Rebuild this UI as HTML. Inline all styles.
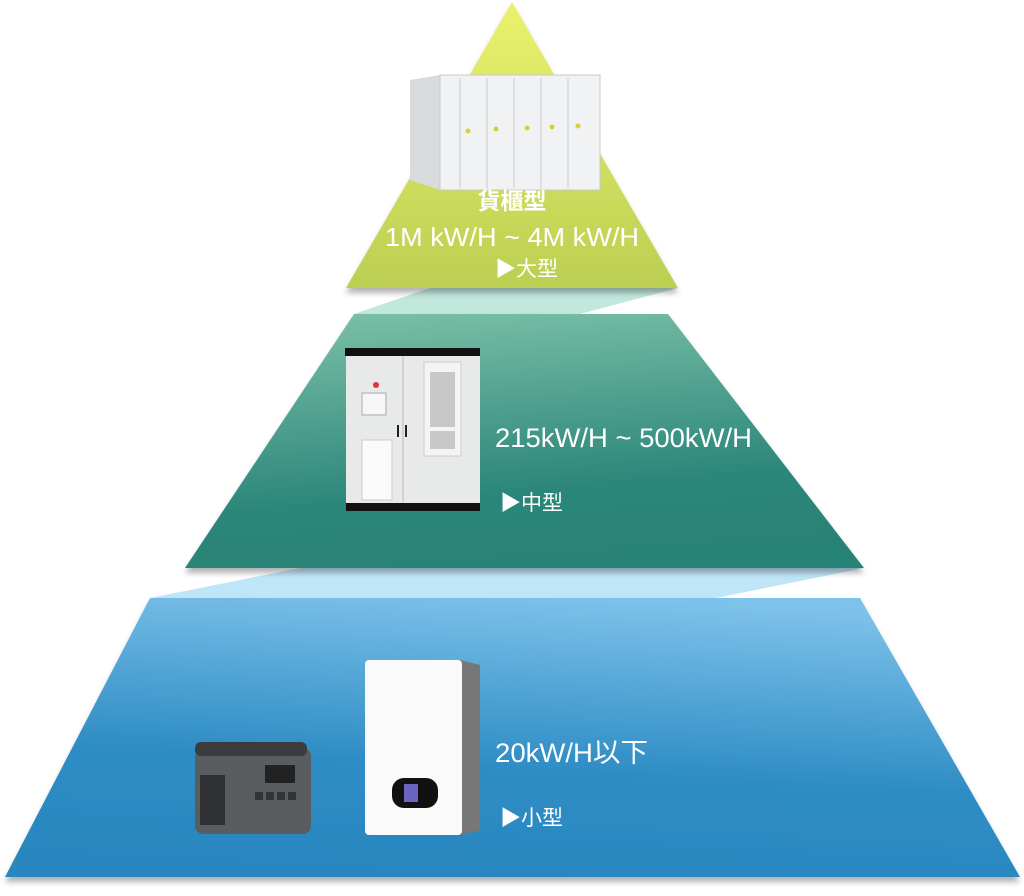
<!DOCTYPE html>
<html><head><meta charset="utf-8"><style>
body{margin:0;background:#fff;width:1024px;height:891px;overflow:hidden}
svg text{font-family:"Liberation Sans","Noto Sans CJK TC",sans-serif;fill:#fff}
</style></head><body>
<svg width="1024" height="891" viewBox="0 0 1024 891" xmlns="http://www.w3.org/2000/svg">
<defs>
<linearGradient id="gt" x1="0" y1="0" x2="0" y2="1"><stop offset="0" stop-color="#eaf26e"/><stop offset="1" stop-color="#bccf52"/></linearGradient>
<linearGradient id="gm" x1="0.3" y1="0" x2="0.5" y2="1"><stop offset="0" stop-color="#78bea6"/><stop offset="0.7" stop-color="#2c877a"/><stop offset="1" stop-color="#288275"/></linearGradient>
<linearGradient id="gb" x1="0.6" y1="0" x2="0.4" y2="1"><stop offset="0" stop-color="#7dc2ea"/><stop offset="0.6" stop-color="#2f8dc5"/><stop offset="1" stop-color="#2a86bf"/></linearGradient>
<filter id="sh" x="-10%" y="-10%" width="120%" height="130%"><feDropShadow dx="0" dy="5" stdDeviation="3" flood-color="#000" flood-opacity="0.3"/></filter>
</defs>
<polygon points="430,288 678,288 580,314 354,314" fill="#c2e7dd"/>
<polygon points="300,568 864,568 716,598 150,598" fill="#bfe5f8"/>
<polygon points="512,2 678,288 346,288" fill="url(#gt)" filter="url(#sh)"/>
<polygon points="354,314 668,314 864,568 185,568" fill="url(#gm)" filter="url(#sh)"/>
<polygon points="150,598 860,598 1020,877 5,877" fill="url(#gb)" filter="url(#sh)"/>
<g>
<polygon points="410,80 440,75 440,190 410,180" fill="#d8dadc"/>
<rect x="440" y="75" width="160" height="115" fill="#f1f2f3" stroke="#c8c8c8"/>
<g stroke="#c9cacc" stroke-width="1">
<line x1="460" y1="78" x2="460" y2="188"/><line x1="487" y1="78" x2="487" y2="188"/><line x1="514" y1="78" x2="514" y2="188"/><line x1="541" y1="78" x2="541" y2="188"/><line x1="568" y1="78" x2="568" y2="188"/></g>
<g fill="#d7d23a"><circle cx="468" cy="131" r="2.5"/><circle cx="496" cy="129" r="2.5"/><circle cx="527" cy="128" r="2.5"/><circle cx="552" cy="127" r="2.5"/><circle cx="578" cy="126" r="2.5"/></g>
</g>
<g>
<rect x="345" y="348" width="135" height="8" fill="#111"/>
<rect x="346" y="356" width="134" height="150" fill="#e8e9e9"/>
<rect x="346" y="503" width="134" height="8" fill="#111"/>
<line x1="403" y1="356" x2="403" y2="503" stroke="#bbb"/>
<rect x="424" y="362" width="37" height="94" fill="#f4f4f4" stroke="#ccc"/>
<rect x="430" y="372" width="25" height="55" fill="#c8c8c8"/>
<rect x="430" y="431" width="25" height="18" fill="#c8c8c8"/>
<rect x="362" y="393" width="24" height="22" fill="#f6f6f6" stroke="#aaa"/>
<circle cx="376" cy="385" r="3" fill="#d33"/>
<rect x="362" y="440" width="30" height="60" fill="#fafafa" stroke="#ccc"/>
<rect x="397" y="425" width="2" height="12" fill="#222"/><rect x="405" y="425" width="2" height="12" fill="#222"/>
</g>
<g>
<polygon points="460,660 480,665 480,830 460,835" fill="#777"/>
<rect x="365" y="660" width="97" height="175" rx="4" fill="#fafafa"/>
<rect x="392" y="778" width="46" height="30" rx="12" fill="#111"/>
<rect x="404" y="784" width="14" height="18" fill="#6a66c0"/>
</g>
<g>
<rect x="195" y="748" width="116" height="86" rx="8" fill="#5a5d60"/>
<rect x="195" y="742" width="112" height="14" rx="6" fill="#3a3c3e"/>
<rect x="265" y="765" width="30" height="18" fill="#222"/>
<g fill="#333"><rect x="255" y="792" width="8" height="8"/><rect x="266" y="792" width="8" height="8"/><rect x="277" y="792" width="8" height="8"/><rect x="288" y="792" width="8" height="8"/></g>
<rect x="200" y="775" width="25" height="50" fill="#2f3133"/>
</g>
<text x="512" y="209" font-size="23" font-weight="bold" text-anchor="middle">貨櫃型</text>
<text x="512" y="246" font-size="26" text-anchor="middle" textLength="254" lengthAdjust="spacingAndGlyphs">1M kW/H ~ 4M kW/H</text>
<text x="495" y="276" font-size="21">▶大型</text>
<text x="495" y="447" font-size="27" textLength="257" lengthAdjust="spacingAndGlyphs">215kW/H ~ 500kW/H</text>
<text x="500" y="510" font-size="21">▶中型</text>
<text x="495" y="762" font-size="27" textLength="153" lengthAdjust="spacingAndGlyphs">20kW/H以下</text>
<text x="500" y="825" font-size="21">▶小型</text>
</svg>
</body></html>
